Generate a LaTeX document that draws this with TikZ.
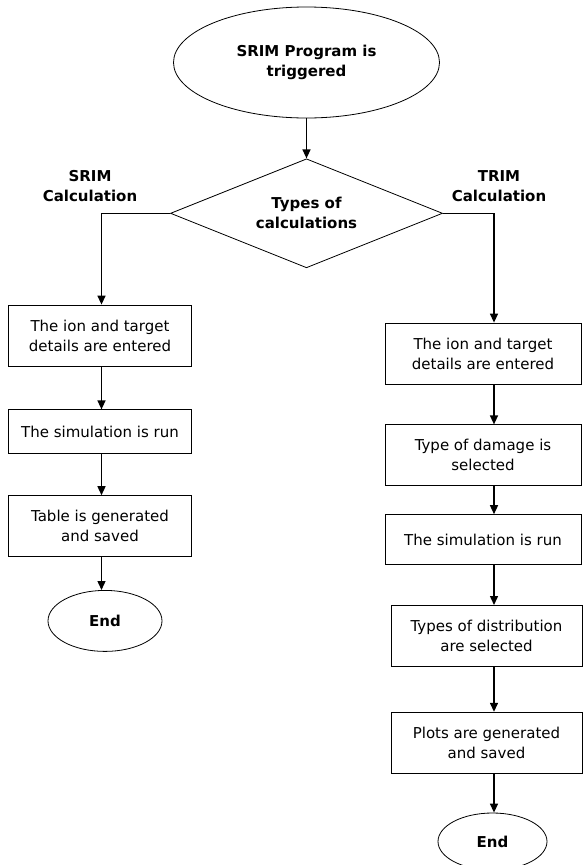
\documentclass[tikz,border=0pt]{standalone}
\usepackage{fontspec}
\setmainfont{DejaVu Sans}
\usepackage{tikz}
\usetikzlibrary{shapes.geometric, arrows.meta, positioning, calc}

\begin{document}
\begin{tikzpicture}[
    node distance=40pt,
    terminal/.style={ellipse, draw, line width=0.8pt, align=center, inner sep=0pt,
                     font=\fontsize{15pt}{20pt}\selectfont\bfseries},
    decision/.style={diamond, draw, line width=0.8pt, aspect=2.5, inner sep=0pt,
                     minimum width=272pt, minimum height=109pt, align=center,
                     font=\fontsize{15pt}{20pt}\selectfont\bfseries},
    block/.style={rectangle, draw, line width=0.8pt, minimum height=61pt,
                  align=center, inner sep=2pt,
                  font=\fontsize{15pt}{20pt}\selectfont},
    branch/.style={align=center, font=\fontsize{15pt}{20pt}\selectfont\bfseries},
    arrow/.style={-{Triangle[length=9pt, width=8pt]}, line width=1.4pt},
  ]
  \useasboundingbox (0,0) rectangle (582pt,-865pt);

  % Start
  \node[terminal, minimum width=266pt, minimum height=111pt] (start) at (306.5pt,-62.5pt)
    {SRIM Program is\\triggered};

  % Decision
  \node[decision, below=40pt of start] (decide) {Types of\\calculations};

  % Branch names
  \node[branch] (srim) at (90pt,-186pt) {SRIM\\Calculation};
  \node[branch] (trim) at (499pt,-186pt) {TRIM\\Calculation};

  % Arrow columns
  \coordinate (lcol) at (101.5pt,0);
  \coordinate (rcol) at (494pt,0);

  % SRIM branch
  \node[block, minimum width=183pt] (lentry) at (100pt,-335.5pt)
    {The ion and target\\details are entered};
  \node[block, minimum width=183pt, minimum height=44pt, below=43pt of lentry] (lrun)
    {The simulation is run};
  \node[block, minimum width=183pt, below=41pt of lrun] (ltable)
    {Table is generated\\and saved};
  \node[terminal, minimum width=114pt, minimum height=61pt, below=33pt of ltable,
        xshift=5pt] (lend) {End};

  % TRIM branch
  \node[block, minimum width=196pt] (rentry) at (483pt,-353.5pt)
    {The ion and target\\details are entered};
  \node[block, minimum width=196pt, below=40pt of rentry] (rdamage)
    {Type of damage is\\selected};
  \node[block, minimum width=196pt, minimum height=50pt, below=28pt of rdamage] (rrun)
    {The simulation is run};
  \node[block, minimum width=191pt, below=40pt of rrun, xshift=3.5pt] (rdist)
    {Types of distribution\\are selected};
  \node[block, minimum width=191pt, below=45pt of rdist] (rplots)
    {Plots are generated\\and saved};
  \node[terminal, minimum width=109pt, minimum height=57pt, below=39pt of rplots,
        xshift=6pt] (rend) {End};

  % Arrows
  \draw[arrow] (start) -- (decide);
  \draw[arrow] (decide.west) -| (lentry.north -| lcol);
  \draw[arrow] (decide.east) -| (rentry.north -| rcol);

  \draw[arrow] (lentry.south -| lcol) -- (lrun.north -| lcol);
  \draw[arrow] (lrun.south -| lcol) -- (ltable.north -| lcol);
  \draw[arrow] (ltable.south -| lcol) -- (lcol |- lend.north);

  \draw[arrow] (rentry.south -| rcol) -- (rdamage.north -| rcol);
  \draw[arrow] (rdamage.south -| rcol) -- (rrun.north -| rcol);
  \draw[arrow] (rrun.south -| rcol) -- (rdist.north -| rcol);
  \draw[arrow] (rdist.south -| rcol) -- (rplots.north -| rcol);
  \draw[arrow] (rplots.south -| rcol) -- (rcol |- rend.north);
\end{tikzpicture}
\end{document}
